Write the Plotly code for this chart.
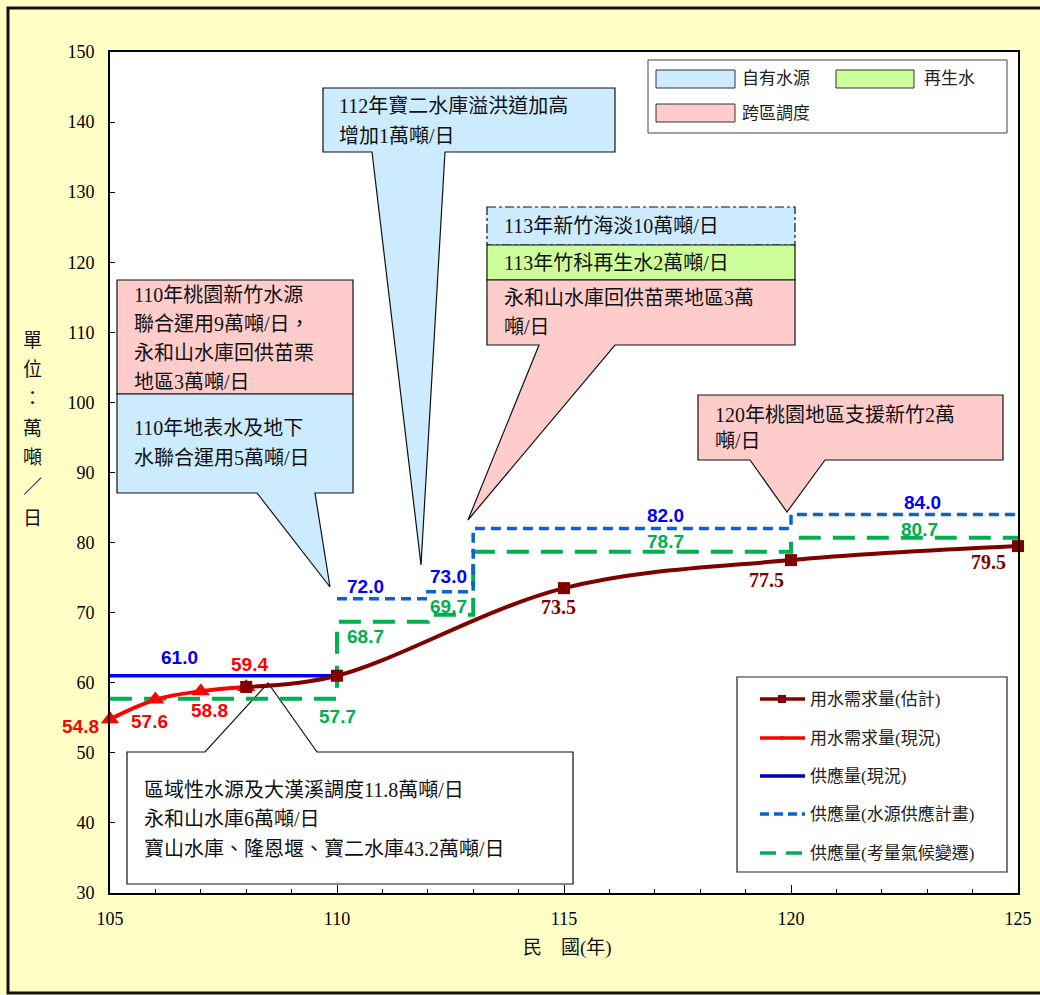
import plotly.graph_objects as go

# ---------------- data ----------------
est_years = [108, 110, 115, 120, 125]
est_demand = [59.4, 61.0, 73.5, 77.5, 79.5]

cur_years = [105, 106, 107, 108]
cur_demand = [54.8, 57.6, 58.8, 59.4]

supply_cur_years = [105, 110]
supply_cur = [61.0, 61.0]

plan_years = [110, 112, 113, 120, 125]
plan_supply = [72.0, 73.0, 82.0, 84.0, 84.0]

climate_years = [105, 110, 112, 113, 120, 125]
climate_supply = [57.7, 68.7, 69.7, 78.7, 80.7, 80.7]

x_ticks = [105, 110, 115, 120, 125]
y_ticks = list(range(30, 151, 10))

# ---------------- geometry helpers ----------------
W, H = 1040, 995
L, R, T, B = 110, 1018, 52, 893


def PX(x):
    return (x - L) / (R - L)


def PY(y):
    return (B - y) / (B - T)


C_DRED = "#800000"
C_RED = "#FF0000"
C_BLUE = "#0000F0"
C_BDASH = "#0B63CE"
C_GREEN = "#00B050"
F_BLUE = "#CCEBFF"
F_PINK = "#FFCCCC"
F_GREEN = "#CCFF99"
SERIF = "Liberation Serif, Noto Sans CJK TC"

fig = go.Figure()

fig.add_trace(go.Scatter(x=climate_years, y=climate_supply, mode="lines",
                         line=dict(color=C_GREEN, width=4, dash="22px,12px", shape="hv"),
                         name="供應量(考量氣候變遷)", cliponaxis=False))
fig.add_trace(go.Scatter(x=plan_years, y=plan_supply, mode="lines",
                         line=dict(color=C_BDASH, width=3.5, dash="10px,6px", shape="hv"),
                         name="供應量(水源供應計畫)", cliponaxis=False))
fig.add_trace(go.Scatter(x=supply_cur_years, y=supply_cur, mode="lines",
                         line=dict(color=C_BLUE, width=3.5),
                         name="供應量(現況)", cliponaxis=False))
fig.add_trace(go.Scatter(x=cur_years, y=cur_demand, mode="lines+markers",
                         line=dict(color=C_RED, width=4, shape="spline"),
                         marker=dict(symbol="triangle-up", size=16, color=C_RED),
                         name="用水需求量(現況)", cliponaxis=False))
fig.add_trace(go.Scatter(x=est_years, y=est_demand, mode="lines+markers",
                         line=dict(color=C_DRED, width=4, shape="spline", smoothing=1.0),
                         marker=dict(symbol="square", size=12, color=C_DRED),
                         name="用水需求量(估計)", cliponaxis=False))

annotations = []


def label(x, y, text, color, family, xs, ys, size=19):
    annotations.append(dict(x=x, y=y, xref="x", yref="y", text=f"<b>{text}</b>",
                            showarrow=False, xshift=xs, yshift=ys,
                            font=dict(family=family, size=size, color=color)))


SANS = "Liberation Sans, Arial"
# current demand labels
cur_off = [(-30, -7), (-6, -22), (9, -19), (3, 22)]
for xv, yv, (xs, ys) in zip(cur_years, cur_demand, cur_off):
    label(xv, yv, f"{yv:.1f}", C_RED, SANS, xs, ys)
# estimated demand labels (115, 120, 125)
est_off = {2: (-6, -19), 3: (-25, -20), 4: (-30, -16)}
for i, (xs, ys) in est_off.items():
    label(est_years[i], est_demand[i], f"{est_demand[i]:.1f}", C_DRED, SERIF, xs, ys, size=20)
# current supply
label(supply_cur_years[0], supply_cur[0], f"{supply_cur[0]:.1f}", C_BLUE, SANS, 69, 18)
# plan supply
plan_off = [(28, 12), (21, 15), (192, 13), (131, 12)]
for xv, yv, (xs, ys) in zip(plan_years[:4], plan_supply[:4], plan_off):
    label(xv, yv, f"{yv:.1f}", "#0000FF", SANS, xs, ys)
# climate supply
clim_off = [(227, -18), (28, -15), (21, 8), (192, 10), (128, 8)]
for xv, yv, (xs, ys) in zip(climate_years[:5], climate_supply[:5], clim_off):
    label(xv, yv, f"{yv:.1f}", C_GREEN, SANS, xs, ys)

shapes = []


def callout(x0, y0, x1, y1, fill, side=None, b1=None, b2=None, tip=None, dash="solid"):
    if side == "bottom":
        pts = [(x0, y0), (x1, y0), (x1, y1), (b2, y1), tip, (b1, y1), (x0, y1)]
    elif side == "top":
        pts = [(x0, y0), (b1, y0), tip, (b2, y0), (x1, y0), (x1, y1), (x0, y1)]
    else:
        pts = [(x0, y0), (x1, y0), (x1, y1), (x0, y1)]
    path = "M " + " L ".join(f"{PX(a):.5f},{PY(b):.5f}" for a, b in pts) + " Z"
    shapes.append(dict(type="path", path=path, xref="paper", yref="paper",
                       fillcolor=fill, line=dict(color="#111111", width=1.2, dash=dash),
                       layer="below"))


def text_lines(x, ys, lines, size=20, family=SERIF, color="#111111"):
    for yy, t in zip(ys, lines):
        annotations.append(dict(x=PX(x), y=PY(yy), xref="paper", yref="paper", text=t,
                                showarrow=False, xanchor="left", yanchor="middle",
                                font=dict(family=family, size=size, color=color)))


# outer frame
shapes.append(dict(type="rect", xref="paper", yref="paper", x0=PX(8), x1=PX(1070),
                   y0=PY(993), y1=PY(8), line=dict(color="#111111", width=3), layer="below"))

# callouts
callout(323, 88, 615, 152, F_BLUE, "bottom", 372, 445, (421, 565))
text_lines(337, [106, 136], ["112年寶二水庫溢洪道加高", "增加1萬噸/日"])

callout(117, 280, 353, 394, F_PINK)
text_lines(132, [295, 324, 353, 382],
           ["110年桃園新竹水源", "聯合運用9萬噸/日，", "永和山水庫回供苗栗", "地區3萬噸/日"])
callout(117, 394, 353, 493, F_BLUE, "bottom", 257, 315, (330, 587))
text_lines(132, [428, 458], ["110年地表水及地下", "水聯合運用5萬噸/日"])

callout(487, 207, 795, 245, F_BLUE, dash="dashdot")
text_lines(502, [226], ["113年新竹海淡10萬噸/日"])
callout(487, 245, 795, 280, F_GREEN)
text_lines(502, [263], ["113年竹科再生水2萬噸/日"])
callout(487, 280, 795, 345, F_PINK, "bottom", 539, 615, (468, 520))
text_lines(502, [298, 327], ["永和山水庫回供苗栗地區3萬", "噸/日"])

callout(698, 395, 1003, 460, F_PINK, "bottom", 750, 825, (787, 512))
text_lines(713, [415, 441], ["120年桃園地區支援新竹2萬", "噸/日"])

callout(127, 752, 573, 884, "#FFFFFF", "top", 205, 317, (268, 683))
text_lines(142, [790, 819, 849],
           ["區域性水源及大漢溪調度11.8萬噸/日", "永和山水庫6萬噸/日",
            "寶山水庫、隆恩堰、寶二水庫43.2萬噸/日"])

# legend 1 (source types)
shapes.append(dict(type="rect", xref="paper", yref="paper", x0=PX(648), x1=PX(1007),
                   y0=PY(133), y1=PY(60), fillcolor="white", line=dict(color="#444", width=1)))
for (x0, y0, x1, y1), f, t, tx in [((656, 70, 735, 88), F_BLUE, "自有水源", 740),
                                   ((836, 70, 914, 88), F_GREEN, "再生水", 922),
                                   ((656, 104, 735, 122), F_PINK, "跨區調度", 740)]:
    shapes.append(dict(type="rect", xref="paper", yref="paper", x0=PX(x0), x1=PX(x1),
                       y0=PY(y1), y1=PY(y0), fillcolor=f, line=dict(color="#333", width=1)))
    text_lines(tx, [(y0 + y1) / 2], [t], size=17, color="#222222")

# legend 2 (series)
shapes.append(dict(type="rect", xref="paper", yref="paper", x0=PX(737), x1=PX(1007),
                   y0=PY(872), y1=PY(677), fillcolor="white", line=dict(color="#222", width=1.2)))
leg = [("用水需求量(估計)", C_DRED, "solid", 699, "sq"),
       ("用水需求量(現況)", C_RED, "solid", 738, "dot"),
       ("供應量(現況)", "#0000C0", "solid", 776, None),
       ("供應量(水源供應計畫)", C_BDASH, "9px,5px", 814, None),
       ("供應量(考量氣候變遷)", C_GREEN, "16px,10px", 853, None)]
for t, c, d, yy, mk in leg:
    shapes.append(dict(type="line", xref="paper", yref="paper", x0=PX(760), x1=PX(805),
                       y0=PY(yy), y1=PY(yy), line=dict(color=c, width=3.5, dash=d)))
    if mk == "sq":
        shapes.append(dict(type="rect", xref="paper", yref="paper", x0=PX(778), x1=PX(786),
                           y0=PY(703), y1=PY(695), fillcolor=c, line=dict(color=c, width=0)))
    elif mk == "dot":
        shapes.append(dict(type="circle", xref="paper", yref="paper", x0=PX(780), x1=PX(784),
                           y0=PY(740), y1=PY(736), fillcolor=c, line=dict(color=c, width=0)))
    text_lines(808, [yy], [t], size=17, color="#222222")

# axis titles
for ch, yy in zip("單位：萬噸／日", [340, 369, 398, 428, 458, 488, 518]):
    annotations.append(dict(x=PX(32), y=PY(yy), xref="paper", yref="paper", text=ch,
                            showarrow=False, xanchor="center", yanchor="middle",
                            font=dict(family=SERIF, size=19, color="#111111")))
annotations.append(dict(x=PX(567), y=PY(948), xref="paper", yref="paper", text="民　國(年)",
                        showarrow=False, xanchor="center", yanchor="middle",
                        font=dict(family=SERIF, size=19, color="#111111")))

fig.update_layout(
    width=W, height=H,
    margin=dict(l=L, r=W - R, t=T, b=H - B, autoexpand=False),
    paper_bgcolor="#FFFFC6", plot_bgcolor="white",
    showlegend=False,
    shapes=shapes, annotations=annotations,
    xaxis=dict(range=[105, 125], tickvals=x_ticks, ticks="inside", ticklen=8, tickwidth=1,
               tickcolor="black", showline=True, linewidth=2, linecolor="black", mirror=True,
               showgrid=False, zeroline=False, ticklabelstandoff=8,
               minor=dict(dtick=1, ticks="inside", ticklen=4, tickcolor="black", showgrid=False),
               tickfont=dict(family="Liberation Serif", size=18, color="black")),
    yaxis=dict(range=[30, 150], tickvals=y_ticks, ticks="inside", ticklen=5, tickwidth=1,
               tickcolor="black", showline=True, linewidth=2, linecolor="black", mirror=True,
               showgrid=False, zeroline=False, ticklabelstandoff=10,
               tickfont=dict(family="Liberation Serif", size=18, color="black")),
)

fig.write_html("out.html")
